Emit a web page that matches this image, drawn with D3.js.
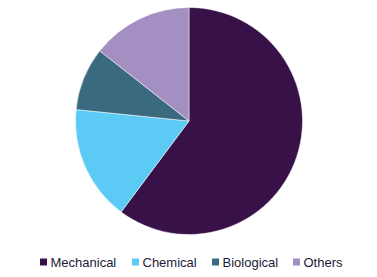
<!DOCTYPE html>
<html>
<head>
<meta charset="utf-8">
<script src="https://cdn.jsdelivr.net/npm/d3@7"></script>
<style>
  body { margin: 0; background: #fff; }
  svg { display: block; }
</style>
</head>
<body>
<svg id="chart"></svg>
<script>
// Market share by type (%)
const categories = ["Mechanical", "Chemical", "Biological", "Others"];
const values = [60.2, 16.4, 9.0, 14.4];
const colors = ["#371148", "#5bcbf5", "#3b6a80", "#a38fc2"];

const width = 377;
const height = 277;
const svg = d3.select("#chart").attr("width", width).attr("height", height);

const cx = 189, cy = 121, radius = 113.5;

const pie = d3.pie().sort(null).value((d) => d.value);
const arc = d3.arc().innerRadius(0).outerRadius(radius);

const data = categories.map((c, i) => ({ name: c, value: values[i], color: colors[i] }));

svg.append("g")
    .attr("transform", `translate(${cx},${cy})`)
    .selectAll("path")
    .data(pie(data))
    .enter()
    .append("path")
    .attr("d", arc)
    .attr("fill", (d) => d.data.color)
    .attr("stroke", "#fff")
    .attr("stroke-width", 0.5);

// Legend
const legendX = [40, 132, 212, 293];
const legend = svg.append("g");
const items = legend.selectAll("g")
    .data(data)
    .enter()
    .append("g")
    .attr("transform", (d, i) => `translate(${legendX[i]},258.5)`);

items.append("rect")
    .attr("width", 7)
    .attr("height", 7)
    .attr("fill", (d) => d.color);

items.append("text")
    .attr("x", 10.5)
    .attr("y", 8.5)
    .attr("font-family", "Liberation Sans, Arial, sans-serif")
    .attr("font-size", "13px")
    .attr("fill", "#1c1c36")
    .text((d) => d.name);
</script>
</body>
</html>
